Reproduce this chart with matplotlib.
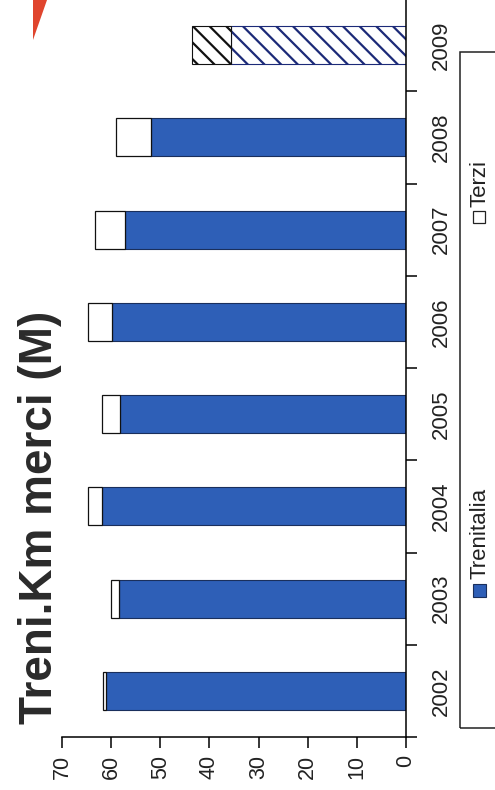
import matplotlib
matplotlib.use("Agg")
import matplotlib.pyplot as plt
from matplotlib.patches import Rectangle, Polygon

# dati (milioni di treni.km)
anni = ["2002", "2003", "2004", "2005", "2006", "2007", "2008", "2009"]
trenitalia = [61.0, 58.5, 61.9, 58.2, 59.9, 57.2, 51.9, 35.6]
terzi = [0.6, 1.6, 2.9, 3.7, 4.9, 6.1, 7.2, 8.0]
valori_ticks = [0, 10, 20, 30, 40, 50, 60, 70]

plt.rcParams['font.family'] = ['Liberation Sans', 'DejaVu Sans']
plt.rcParams['hatch.linewidth'] = 1.6

BLU = '#2e5fb7'
W, H = 495, 790

fig = plt.figure(figsize=(W / 100, H / 100), dpi=100)
ax = fig.add_axes([62 / W, 53 / H, (406 - 62) / W, 791 / H - 53 / H])

pos = list(range(len(anni)))
ultimo = len(anni) - 1

# barre orizzontali, l'ultimo anno tratteggiato (stima)
for i in pos:
    if i == ultimo:
        ax.barh(i, trenitalia[i], height=0.41, color='white',
                edgecolor='#1c2a78', hatch='\\\\', linewidth=0.8)
        ax.barh(i, terzi[i], left=trenitalia[i], height=0.41, color='white',
                edgecolor='#111111', hatch='\\\\', linewidth=0.8)
    else:
        ax.barh(i, trenitalia[i], height=0.41, color=BLU,
                edgecolor='#1a2f5c', linewidth=0.8)
        ax.barh(i, terzi[i], left=trenitalia[i], height=0.41, color='white',
                edgecolor='#111111', linewidth=0.9)

ax.set_xlim(70, 0)
ax.set_ylim(-0.5, 7.5)

for s in ['left', 'top']:
    ax.spines[s].set_visible(False)
ax.spines['right'].set_linewidth(1.1)
ax.spines['bottom'].set_linewidth(1.1)

ax.set_xticks(valori_ticks)
ax.set_xticklabels([str(v) for v in valori_ticks], rotation=90, fontsize=15.5, color='#222222')
ax.tick_params(axis='x', direction='out', length=8, width=1.1, pad=5)

ax.yaxis.tick_right()
ax.set_yticks(pos)
ax.set_yticklabels(anni, rotation=90, fontsize=16, color='#222222', va='center')
ax.set_yticks([p - 0.5 for p in pos] + [ultimo + 0.5], minor=True)
ax.tick_params(axis='y', which='major', length=0, pad=18)
ax.tick_params(axis='y', which='minor', direction='out', length=8, width=1.1)

# titolo ruotato
fig.text(40 / W, 1 - 517 / H, "Treni.Km merci (M)", rotation=90, fontsize=33,
         fontweight='bold', color='#2a2a2a', ha='center', va='center')

# legenda disegnata a mano (ruotata)
fig.patches.append(Rectangle((460 / W, 1 - 728 / H), 60 / W, (728 - 52) / H,
                             transform=fig.transFigure, facecolor='none',
                             edgecolor='#222222', linewidth=1.1))
fig.patches.append(Rectangle((473 / W, 1 - 597 / H), 13 / W, 13 / H,
                             transform=fig.transFigure, facecolor=BLU,
                             edgecolor='#1a2f5c', linewidth=0.8))
fig.text(480 / W, 1 - 579 / H, "Trenitalia", rotation=90, fontsize=16,
         color='#222222', ha='center', va='bottom')
fig.patches.append(Rectangle((473 / W, 1 - 223 / H), 12 / W, 12 / H,
                             transform=fig.transFigure, facecolor='white',
                             edgecolor='#222222', linewidth=0.9))
fig.text(480 / W, 1 - 207 / H, "Terzi", rotation=90, fontsize=16,
         color='#222222', ha='center', va='bottom')

# macchia rossa in alto a sinistra (dalla scansione)
fig.patches.append(Polygon([(33 / W, 1.0), (47 / W, 1.0), (33 / W, 1 - 40 / H)],
                           closed=True, transform=fig.transFigure,
                           facecolor='#e0452e', edgecolor='none'))

fig.savefig("out.png", dpi=100)
